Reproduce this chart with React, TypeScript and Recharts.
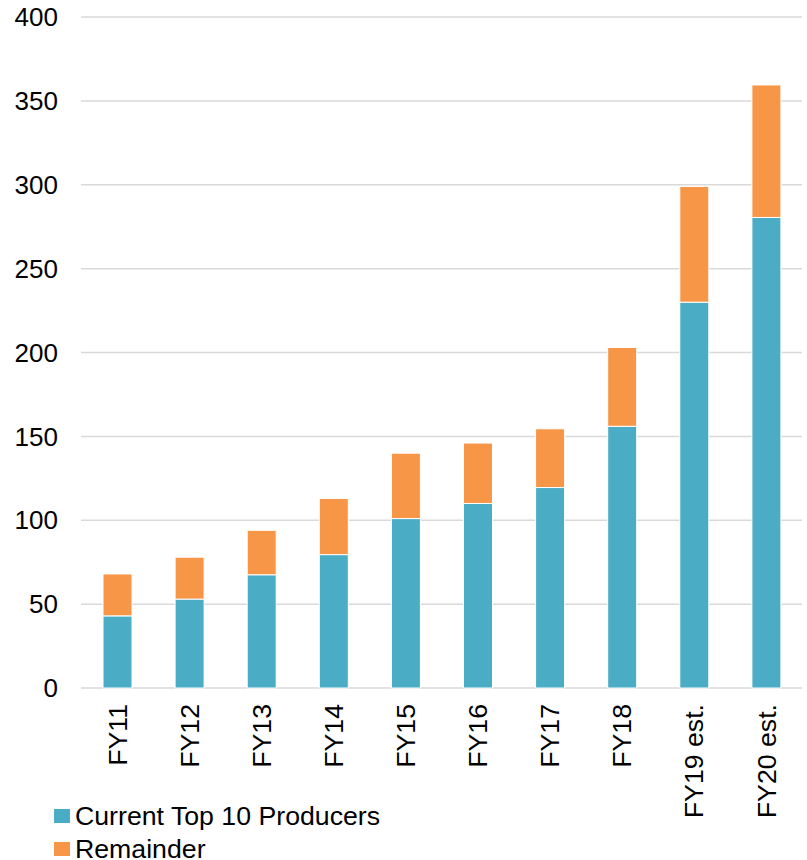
import React from 'react';
import { BarChart, Bar, XAxis, YAxis, CartesianGrid, Legend } from 'recharts';

const categories = ['FY11', 'FY12', 'FY13', 'FY14', 'FY15', 'FY16', 'FY17', 'FY18', 'FY19 est.', 'FY20 est.'];
const topProducers = [43, 53, 67.5, 79.5, 101, 110, 119.5, 156, 230, 280.5];
const remainder = [25, 25, 26.5, 33.5, 39, 36, 35, 47, 69, 79];
const yTicks = [0, 50, 100, 150, 200, 250, 300, 350, 400];

const seriesNames = ['Current Top 10 Producers', 'Remainder'];
const colors = ['#4BACC6', '#F79646'];

const data = categories.map((c, i) => ({ name: c, top: topProducers[i], rem: remainder[i] }));

const FONT = 'Liberation Sans, Arial, sans-serif';

const XTick = (props: any) => {
  const { x, y, payload } = props;
  return (
    <g transform={`translate(${x},${y})`}>
      <text
        transform="rotate(-90)"
        x={-16}
        y={0}
        dy="0.36em"
        textAnchor="end"
        fill="#000"
        fontSize={26.7}
        fontFamily={FONT}
      >
        {payload.value}
      </text>
    </g>
  );
};

const LegendContent = () => (
  <div style={{ fontFamily: FONT, fontSize: 26.7, color: '#000', lineHeight: '30px' }}>
    {seriesNames.map((n, i) => (
      <div key={n} style={{ display: 'flex', alignItems: 'center', height: 33 }}>
        <span style={{ display: 'inline-block', width: 16, height: 14, background: colors[i], marginRight: 5 }} />
        <span>{n}</span>
      </div>
    ))}
  </div>
);

export default function App() {
  return (
    <div style={{ position: 'absolute', left: 0, top: 0, width: 807, height: 860, background: '#fff', overflow: 'hidden' }}>
      <BarChart width={807} height={860} data={data} margin={{ top: 17, right: 5, bottom: 0, left: 0 }}>
        <CartesianGrid vertical={false} stroke="#D9D9D9" strokeWidth={1.5} />
        <XAxis
          dataKey="name"
          axisLine={false}
          tickLine={false}
          tickSize={0}
          tickMargin={0}
          interval={0}
          height={172}
          tick={<XTick />}
        />
        <YAxis
          domain={[0, 400]}
          ticks={yTicks}
          axisLine={false}
          tickLine={false}
          tickSize={0}
          tickMargin={23}
          width={81}
          tick={{ fill: '#000', fontSize: 26, fontFamily: FONT }}
        />
        <Legend
          layout="vertical"
          verticalAlign="middle"
          align="center"
          content={<LegendContent />}
          wrapperStyle={{ top: 799, left: 54, width: 420, height: 60 }}
        />
        <Bar dataKey="top" name={seriesNames[0]} stackId="a" fill={colors[0]} stroke="#fff" strokeWidth={1} barSize={29} isAnimationActive={false} />
        <Bar dataKey="rem" name={seriesNames[1]} stackId="a" fill={colors[1]} stroke="#fff" strokeWidth={1} barSize={29} isAnimationActive={false} />
      </BarChart>
    </div>
  );
}
